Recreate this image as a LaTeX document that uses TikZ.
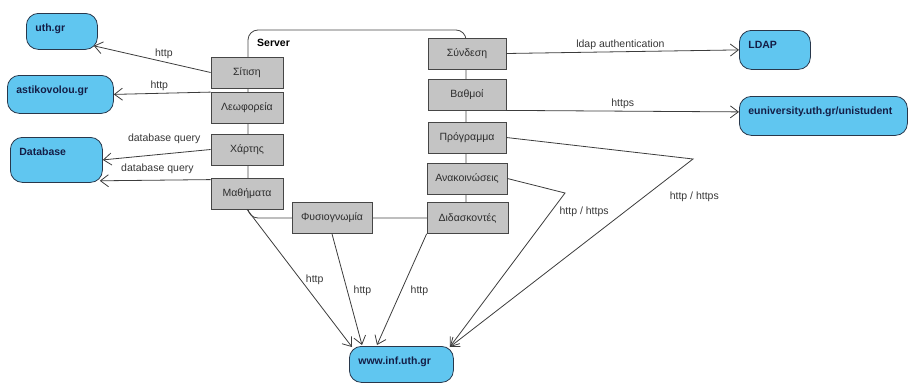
\documentclass[tikz,border=0pt]{standalone}
\usepackage{fontspec}
\setmainfont{Liberation Sans}
\usetikzlibrary{arrows.meta}
\definecolor{siteblue}{RGB}{96,198,240}
\definecolor{siteline}{RGB}{40,55,75}
\definecolor{sitetext}{RGB}{20,30,70}
\definecolor{boxgray}{RGB}{196,196,196}
\definecolor{boxline}{RGB}{70,70,70}
\definecolor{boxtext}{RGB}{45,45,45}
\definecolor{lineclr}{RGB}{60,60,60}
\definecolor{labeltext}{RGB}{55,55,55}
\begin{document}
\begin{tikzpicture}[x=1pt, y=-1pt,
font=\fontsize{10.5}{12}\selectfont,
box/.style={draw=boxline, line width=.8pt, fill=boxgray, text=boxtext, minimum height=31pt, inner sep=0pt},
site/.style 2 args={draw=siteline, line width=.8pt, fill=siteblue, text=sitetext, font=\fontsize{10.5}{12}\selectfont\bfseries, rounded corners=12pt, anchor=north west, align=left, inner xsep=9pt, inner ysep=7pt, text height=11pt, text width=#1, text depth=#2},
conn/.style={draw=lineclr, line width=.8pt, -{Straight Barb[length=8pt,width=12pt]}},
lbl/.style={text=labeltext, inner sep=2pt}]
\useasboundingbox (0,0) rectangle (908,383);

% server
\node[draw=boxline, line width=.8pt, rounded corners=10pt, minimum width=218pt, minimum height=188pt, inner sep=0pt] (server) at (357,124) {};
\node[font=\fontsize{10.5}{12}\selectfont\bfseries, anchor=west, inner sep=0pt] (serverlbl) at (257,43) {Server};

\node[box, minimum width=72pt] (sitisi) at (247,72.5) {Σίτιση};
\node[box, minimum width=72pt] (leoforeia) at (247,108) {Λεωφορεία};
\node[box, minimum width=72pt] (xartis) at (247,149.5) {Χάρτης};
\node[box, minimum width=72pt] (mathimata) at (247,193.5) {Μαθήματα};
\node[box, minimum width=78pt] (syndesi) at (467,53.5) {Σύνδεση};
\node[box, minimum width=78pt] (vathmoi) at (467,94.5) {Βαθμοί};
\node[box, minimum width=78pt] (programma) at (467,137.5) {Πρόγραμμα};
\node[box, minimum width=80pt] (anakoin) at (467,178.5) {Ανακοινώσεις};
\node[box, minimum width=81pt] (didask) at (467.5,218) {Διδασκοντές};
\node[box, minimum width=80pt] (fysio) at (332,218) {Φυσιογνωμία};

% outside
\node[site={53pt}{11pt}] (uth) at (26,13) {uth.gr};
\node[site={88pt}{13pt}] (astiko) at (7,75) {astikovolou.gr};
\node[site={74pt}{20pt}] (db) at (10,137) {Database};
\node[site={53pt}{14pt}] (ldap) at (739,30) {LDAP};
\node[site={150pt}{14pt}] (euni) at (739,96) {euniversity.uth.gr/unistudent};
\node[site={86pt}{11pt}] (www) at (349,346) {www.inf.uth.gr};

\coordinate (bendprog) at (693,159);
\coordinate (bendanak) at (565,193);

\draw[conn] (sitisi.west) -- node[lbl, above=1pt, pos=.4] (l1) {http} ([xshift=-4pt,yshift=4pt]uth.south east);
\draw[conn] (leoforeia.north west) -- node[lbl, above=0pt, pos=.53] (l2) {http} (astiko.east);
\draw[conn] (xartis.west) -- node[lbl, above=8pt, pos=.43] (l3) {database query} (db.east);
\draw[conn] ([yshift=-2pt]mathimata.north west) -- node[lbl, above=4pt, pos=.48] (l4) {database query} ([xshift=-3pt,yshift=2pt]db.south east);
\draw[conn] (syndesi.east) -- node[lbl, above=0pt, pos=.49] (l5) {ldap authentication} (ldap.west);
\draw[conn] (vathmoi.south east) -- node[lbl, above=0pt, pos=.5] (l6) {https} ([yshift=4pt]euni.west);
\draw[conn] (programma.east) -- (bendprog) -- node[lbl, right=23pt, pos=.2] (l7) {http / https} ([xshift=-4pt,yshift=-1pt]www.north east);
\draw[conn] (anakoin.east) -- (bendanak) -- node[lbl, right=6pt, pos=.12] (l8) {http / https} ([xshift=-4pt,yshift=-1pt]www.north east);
\draw[conn] (mathimata.south) -- node[lbl, right=3pt, pos=.51] (l9) {http} ([xshift=3pt,yshift=-1pt]www.north west);
\draw[conn] (fysio.south) -- node[lbl, right=4pt, pos=.51] (l10) {http} ([xshift=13pt,yshift=1pt]www.north west);
\draw[conn] (didask.south west) -- node[lbl, right=7pt, pos=.51] (l11) {http} ([xshift=28pt,yshift=1pt]www.north west);
\end{tikzpicture}
\end{document}
